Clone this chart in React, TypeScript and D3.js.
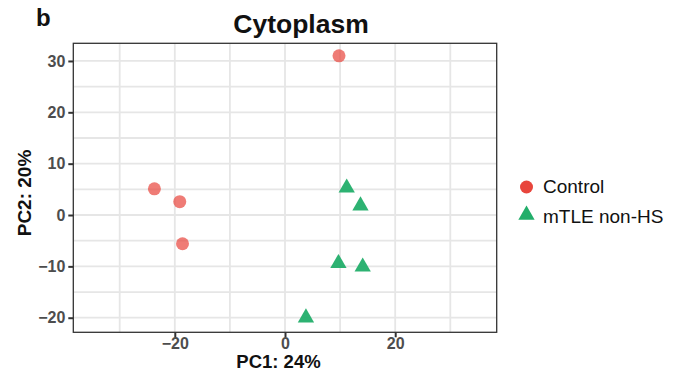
import React, { useEffect, useRef } from "react";
import * as d3 from "d3";

// PCA scores
const controlPC1 = [9.8, -23.7, -19.1, -18.6];
const controlPC2 = [31.0, 5.1, 2.6, -5.6];
const mtlePC1 = [11.2, 13.7, 9.7, 14.1, 3.8];
const mtlePC2 = [5.3, 1.8, -9.4, -10.1, -20.0];

const xTicks = [-20, 0, 20];
const yTicks = [-20, -10, 0, 10, 20, 30];
const xMinor = [-30, -10, 10, 30];
const yMinor = [-15, -5, 5, 15, 25];
const groups = ["Control", "mTLE non-HS"];

const RED = "#e8453c";
const GREEN = "#22ae6a";

const App = () => {
  const svgRef = useRef<SVGSVGElement>(null);

  useEffect(() => {
    const svg = d3.select(svgRef.current);
    svg.selectAll("*").remove();

    const left = 73.3, right = 496.7, top = 43.3, bottom = 332.3;
    const font = "Liberation Sans, Arial, sans-serif";

    const x = d3.scaleLinear().domain([-38.42, 38.42]).range([left, right]);
    const y = d3.scaleLinear().domain([-22.84, 33.44]).range([bottom, top]);

    const g = svg.append("g");

    // grid
    g.selectAll(".gx")
      .data([...xMinor, ...xTicks])
      .enter()
      .append("line")
      .attr("x1", (d) => x(d)).attr("x2", (d) => x(d))
      .attr("y1", top).attr("y2", bottom)
      .attr("stroke", "#e6e6e6")
      .attr("stroke-width", 1.8);

    g.selectAll(".gy")
      .data([...yMinor, ...yTicks])
      .enter()
      .append("line")
      .attr("y1", (d) => y(d)).attr("y2", (d) => y(d))
      .attr("x1", left).attr("x2", right)
      .attr("stroke", "#e6e6e6")
      .attr("stroke-width", 1.8);

    // axes
    const xAxis = d3.axisBottom(x).tickValues(xTicks).tickSize(5).tickPadding(0)
      .tickFormat((d) => String(d).replace("-", "\u2212"));
    const yAxis = d3.axisLeft(y).tickValues(yTicks).tickSize(5).tickPadding(3)
      .tickFormat((d) => String(d).replace("-", "\u2212"));

    const ax = svg.append("g").attr("transform", `translate(0,${bottom})`).call(xAxis);
    const ay = svg.append("g").attr("transform", `translate(${left},0)`).call(yAxis);
    [ax, ay].forEach((a) => {
      a.select(".domain").remove();
      a.selectAll("line").attr("stroke", "#333").attr("stroke-width", 2);
      a.selectAll("text")
        .attr("fill", "#4d4d4d")
        .style("font-family", font)
        .style("font-size", "16px")
        .style("font-weight", "bold");
    });

    // panel border
    svg.append("rect")
      .attr("x", left).attr("y", top)
      .attr("width", right - left).attr("height", bottom - top)
      .attr("fill", "none").attr("stroke", "#333").attr("stroke-width", 1.3);

    // points
    g.selectAll(".ctrl")
      .data(controlPC1)
      .enter()
      .append("circle")
      .attr("cx", (d) => x(d))
      .attr("cy", (d, i) => y(controlPC2[i]))
      .attr("r", 6.5)
      .attr("fill", RED)
      .attr("fill-opacity", 0.7);

    const tri = d3.symbol().type(d3.symbolTriangle).size(115);
    g.selectAll(".mtle")
      .data(mtlePC1)
      .enter()
      .append("path")
      .attr("d", tri)
      .attr("transform", (d, i) => `translate(${x(d)},${y(mtlePC2[i])})`)
      .attr("fill", GREEN)
      .attr("fill-opacity", 0.95);

    // title, labels
    svg.append("text").attr("x", 301).attr("y", 33).attr("text-anchor", "middle")
      .style("font-family", font).style("font-size", "26.5px").style("font-weight", "bold")
      .attr("fill", "#111").text("Cytoplasm");
    svg.append("text").attr("x", 36).attr("y", 26)
      .style("font-family", font).style("font-size", "24px").style("font-weight", "bold")
      .attr("fill", "#111").text("b");
    svg.append("text").attr("x", 278.5).attr("y", 368).attr("text-anchor", "middle")
      .style("font-family", font).style("font-size", "18.5px").style("font-weight", "bold")
      .attr("fill", "#111").text("PC1: 24%");
    svg.append("text")
      .attr("transform", "translate(31,193) rotate(-90)")
      .attr("text-anchor", "middle")
      .style("font-family", font).style("font-size", "19px").style("font-weight", "bold")
      .attr("fill", "#111").text("PC2: 20%");

    // legend
    const leg = svg.append("g");
    leg.selectAll("text")
      .data(groups)
      .enter()
      .append("text")
      .attr("x", 543)
      .attr("y", (d, i) => 193.3 + i * 30)
      .style("font-family", font).style("font-size", "19px")
      .attr("fill", "#111")
      .text((d) => d);
    leg.append("circle").attr("cx", 526.5).attr("cy", 187).attr("r", 6.5).attr("fill", RED);
    leg.append("path").attr("d", tri).attr("transform", "translate(526.5,215)").attr("fill", GREEN);
  }, []);

  return (
    <svg ref={svgRef} width={682} height={376} style={{ position: "absolute", left: 0, top: 0, background: "#fff" }}></svg>
  );
};

export default App;
